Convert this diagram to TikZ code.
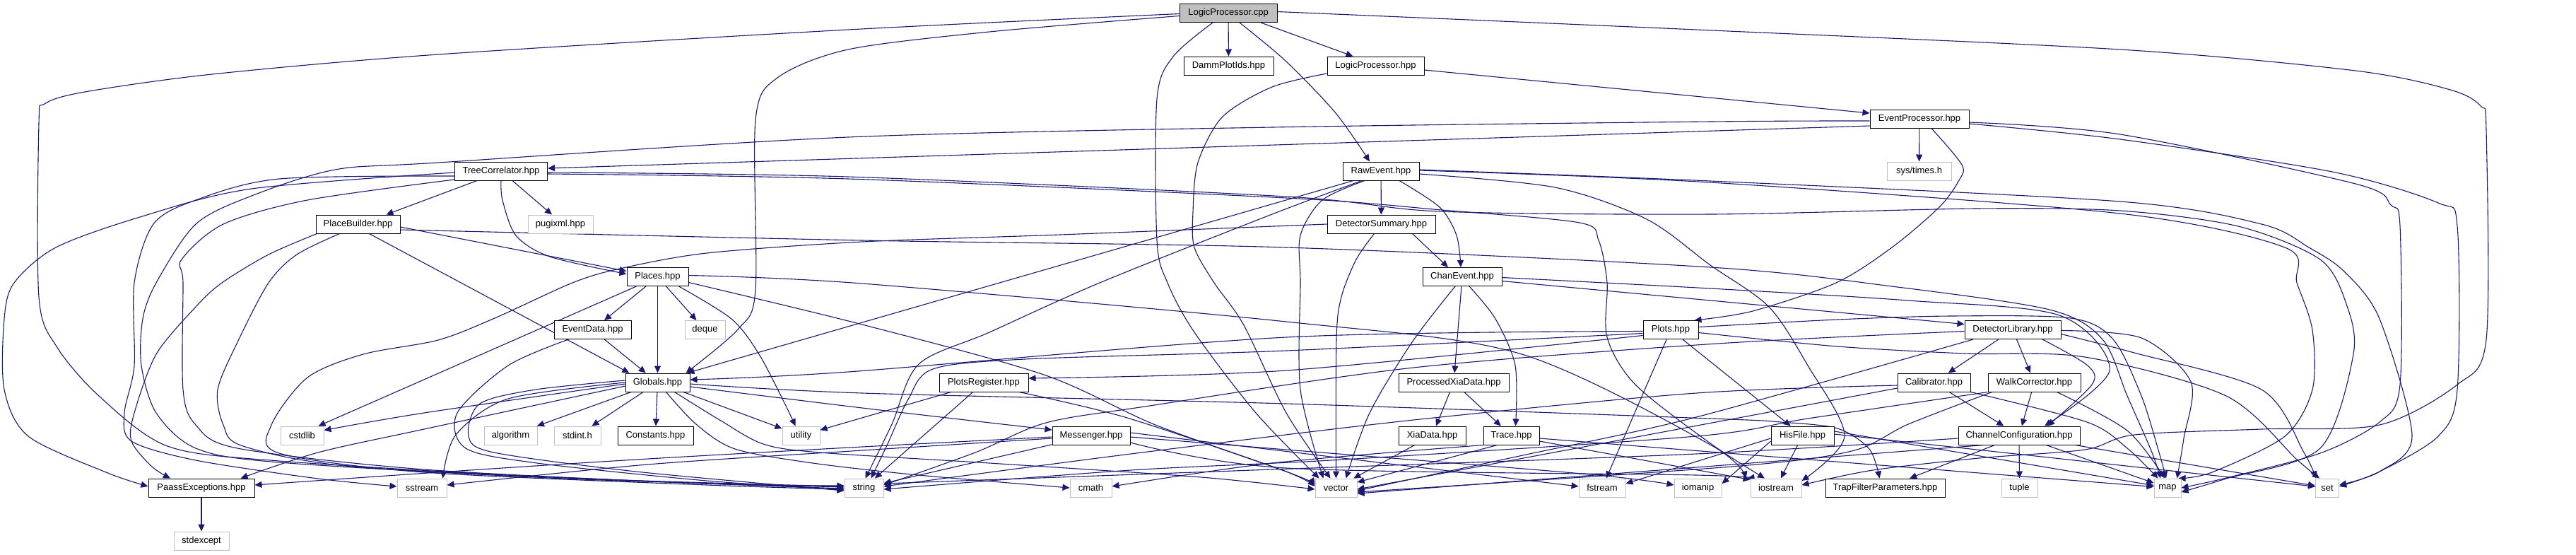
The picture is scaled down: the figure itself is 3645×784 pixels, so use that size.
\documentclass[tikz,border=0pt]{standalone}
\usepackage{fontspec}
\setmainfont{Liberation Sans}
\usetikzlibrary{arrows.meta}
\definecolor{edgeblue}{HTML}{191970}
\definecolor{extgray}{HTML}{BFBFBF}
\definecolor{rootgray}{HTML}{BFBFBF}
\pgfdeclarelayer{bg}
\pgfsetlayers{bg,main}
\newcommand\edgeplot[1]{\draw[edg] plot[smooth,tension=0.5] coordinates {#1};}
\begin{document}
\begin{tikzpicture}[x=0.5pt,y=-0.5pt,
  basebox/.style={rectangle, minimum height=13pt, inner xsep=0pt, inner ysep=0pt, font=\fontsize{6.5}{7}\selectfont, fill=white, line width=0.5pt},
  docbox/.style={basebox, draw=black},
  extbox/.style={basebox, draw=extgray},
  rootbox/.style={basebox, draw=black, fill=rootgray},
  edg/.style={draw=edgeblue, line width=0.55pt, -{Triangle[length=5pt,width=4.5pt]}}]
\useasboundingbox (0,0) rectangle (3645,784);
% ---------- nodes ----------
\node[rootbox,minimum width=69pt] (lpc) at (1738,18.5) {LogicProcessor.cpp};
\node[docbox,minimum width=63.5pt] (dpi) at (1738.5,93) {DammPlotIds.hpp};
\node[docbox,minimum width=68.5pt] (lph) at (1946.5,93) {LogicProcessor.hpp};
\node[docbox,minimum width=70pt] (ep) at (2716,168) {EventProcessor.hpp};
\node[extbox,minimum width=45.5pt] (sth) at (2715.5,242) {sys/times.h};
\node[docbox,minimum width=65.5pt] (tc) at (709,242) {TreeCorrelator.hpp};
\node[docbox,minimum width=54pt] (re) at (1954,242) {RawEvent.hpp};
\node[docbox,minimum width=59.5pt] (pb) at (506.5,317) {PlaceBuilder.hpp};
\node[extbox,minimum width=46pt] (pug) at (793,317) {pugixml.hpp};
\node[docbox,minimum width=76.5pt] (ds) at (1954.5,317) {DetectorSummary.hpp};
\node[docbox,minimum width=43.5pt] (pl) at (930.5,391.5) {Places.hpp};
\node[docbox,minimum width=56pt] (ce) at (2069,391.5) {ChanEvent.hpp};
\node[docbox,minimum width=54.5pt] (ed) at (838.5,466.5) {EventData.hpp};
\node[extbox,minimum width=28.5pt] (dq) at (997.5,466.5) {deque};
\node[docbox,minimum width=39pt] (pt) at (2364,466.5) {Plots.hpp};
\node[docbox,minimum width=68pt] (dl) at (2848,466.5) {DetectorLibrary.hpp};
\node[docbox,minimum width=45.5pt] (gl) at (930.5,541) {Globals.hpp};
\node[docbox,minimum width=63pt] (pr) at (1392,541) {PlotsRegister.hpp};
\node[docbox,minimum width=78pt] (px) at (2057,541) {ProcessedXiaData.hpp};
\node[docbox,minimum width=51.5pt] (cb) at (2736.5,541) {Calibrator.hpp};
\node[docbox,minimum width=65.5pt] (wc) at (2878.5,541) {WalkCorrector.hpp};
\node[extbox,minimum width=30.5pt] (csl) at (427.5,616) {cstdlib};
\node[extbox,minimum width=37.5pt] (alg) at (722.5,616) {algorithm};
\node[extbox,minimum width=33pt] (sti) at (817,616) {stdint.h};
\node[docbox,minimum width=53.5pt] (con) at (927.5,616) {Constants.hpp};
\node[extbox,minimum width=26.5pt] (uti) at (1133.5,616) {utility};
\node[docbox,minimum width=55pt] (ms) at (1544,616) {Messenger.hpp};
\node[docbox,minimum width=47.5pt] (xd) at (2026.5,616) {XiaData.hpp};
\node[docbox,minimum width=39.5pt] (tr) at (2138.5,616) {Trace.hpp};
\node[docbox,minimum width=44.5pt] (hf) at (2550.5,616) {HisFile.hpp};
\node[docbox,minimum width=86pt] (cc) at (2857,616) {ChannelConfiguration.hpp};
\node[docbox,minimum width=75pt] (pe) at (285,690) {PaassExceptions.hpp};
\node[extbox,minimum width=35pt] (sst) at (597,690) {sstream};
\node[extbox,minimum width=27.5pt] (str) at (1222.5,690) {string};
\node[extbox,minimum width=29.5pt] (cm) at (1543.5,690) {cmath};
\node[extbox,minimum width=29.5pt] (vec) at (1890.5,690) {vector};
\node[extbox,minimum width=33pt] (fst) at (2267,690) {fstream};
\node[extbox,minimum width=33.5pt] (iom) at (2402.5,690) {iomanip};
\node[extbox,minimum width=36pt] (ios) at (2513,690) {iostream};
\node[docbox,minimum width=84.5pt] (tfp) at (2667.5,690) {TrapFilterParameters.hpp};
\node[extbox,minimum width=25.5pt] (tup) at (2857.5,690) {tuple};
\node[extbox,minimum width=19pt] (map) at (3067,690) {map};
\node[extbox,minimum width=16.5pt] (set) at (3293,690) {set};
\node[extbox,minimum width=39pt] (sex) at (285,765) {stdexcept};
% ---------- edges ----------
\begin{pgfonlayer}{bg}
\fill[white] (0,0) rectangle (3645,784);
% LogicProcessor.cpp
\draw[edg] (lpc) -- (dpi);
\draw[edg] ([xshift=23pt]lpc.south) -- ([xshift=-16pt]lph.north);
\edgeplot{([xshift=8pt]lpc.south) (1820,87) (1890,160) ([xshift=-8pt]re.north)}
\edgeplot{([yshift=-2pt]lpc.west) (1400,45) (1200,70) (1100,110) (1069,170) (1069,410) (1045,465) ([xshift=-3pt]gl.north east)}
\edgeplot{([yshift=-0.5pt]lpc.west) (1200,42) (620,77) (300,105) (120,130) (63,147) (55,175) (55,420) (80,490) (140,560) (237,631) (395,652) (800,676) ([yshift=1pt]str.west)}
\edgeplot{([xshift=-11pt]lpc.south) (1660,80) (1637,140) (1637,340) (1652,400) (1690,470) (1777,584) ([xshift=-12pt]vec.north)}
\edgeplot{([yshift=1pt]lpc.east) (2400,42) (3000,70) (3333,100) (3467,127) (3510,150) (3518,185) (3518,480) (3477,544) (3367,601) (3200,607) (3020,615) (2950,636) (2800,648) (2650,665) ([yshift=2pt]ios.east)}
% LogicProcessor.hpp
\draw[edg] ([yshift=-3pt]lph.east) -- ([yshift=4pt]ep.west);
\edgeplot{([yshift=-5.5pt]lph.west) (1800,123) (1730,165) (1695,230) (1688,300) (1690,350) (1718,400) (1760,460) (1820,584) ([xshift=-4pt]vec.north)}
% EventProcessor.hpp
\draw[edg] (ep) -- (sth);
\draw[edg] ([yshift=-5pt]ep.west) -- ([yshift=2pt]tc.east);
\edgeplot{([yshift=-1.5pt]ep.west) (2420,172) (1800,180) (1200,194) (620,230) (474,240) (356,277) (277,317) (221,400) (202,451) (200,517) (221,584) (277,634) (395,654) (800,677) ([yshift=0.5pt]str.west)}
\edgeplot{([xshift=8.5pt]ep.south) (2776,233) (2772,255) (2744,293) (2677,350) (2598,400) (2480,440) ([xshift=-3pt]pt.north east)}
\edgeplot{([yshift=-2.5pt]ep.east) (3000,190) (3333,260) (3383,290) (3396,320) (3396,544) (3367,597) (3283,641) (3150,676) ([yshift=0pt]map.east)}
\edgeplot{([yshift=-3.5pt]ep.east) (3000,197) (3300,243) (3450,287) (3477,320) (3477,551) (3450,617) (3367,667) ([yshift=1pt]set.east)}
% TreeCorrelator.hpp
\draw[edg] ([xshift=8pt]tc.south) -- ([xshift=-6pt]pug.north);
\draw[edg] ([xshift=-17pt]tc.south) -- ([xshift=20pt]pb.north);
\edgeplot{(tc.south) (711,283) (730,333) (778,363) ([yshift=2pt]pl.west)}
\edgeplot{([yshift=-1pt]tc.west) (356,267) (198,307) (79,350) (20,400) (6,451) (6,551) (40,617) (150,668) ([yshift=1pt]pe.west)}
\edgeplot{([yshift=-3.5pt]tc.west) (395,253) (277,283) (217,317) (190,400) (190,517) (176,584) (186,624) (277,651) (450,677) ([yshift=1pt]sst.west)}
\edgeplot{([yshift=-6pt]tc.west) (435,283) (316,317) (257,367) (259,400) (259,551) (277,601) (336,634) (600,664) (1000,684) ([yshift=1.5pt]str.west)}
\edgeplot{([yshift=-1pt]tc.east) (1200,250) (1820,278) (2037,299) (2420,303) (2795,295) (3000,298) (3167,320) (3283,367) (3320,430) (3330,501) (3283,634) (3150,677) ([yshift=-3pt]map.east)}
\edgeplot{([yshift=-2pt]tc.east) (1200,253) (1820,280) (2040,297) (2235,315) (2262,340) (2274,400) (2274,477) (2314,544) (2420,627) ([xshift=-8pt]ios.north)}
% RawEvent.hpp
\draw[edg] (re) -- (ds);
\edgeplot{([xshift=13pt]re.south) (2037,293) (2061,333) ([xshift=-1pt]ce.north)}
\draw[edg] ([xshift=-19.5pt]re.south) -- ([xshift=21pt]gl.north);
\edgeplot{([xshift=-13.5pt]re.south) (1800,303) (1556,400) (1400,470) (1300,515) (1262,600) ([xshift=1pt]str.north)}
\edgeplot{([xshift=-11.5pt]re.south) (1871,283) (1840,333) (1840,400) (1840,551) ([xshift=-9pt]vec.north)}
\edgeplot{([yshift=0.5pt]re.east) (2420,258) (3000,302) (3233,350) (3250,400) (3272,467) (3272,551) (3233,617) (3130,668) ([xshift=-2pt]map.north east)}
\edgeplot{([yshift=1pt]re.east) (2420,256) (3000,285) (3200,317) (3267,350) (3317,384) (3367,451) (3413,617) (3367,667) ([yshift=2pt]set.east)}
\edgeplot{([yshift=-2pt]re.east) (2200,265) (2330,310) (2420,375) (2503,434) (2558,517) (2610,617) ([yshift=5pt]ios.east)}
% PlaceBuilder.hpp
\draw[edg] ([yshift=-2pt]pb.east) -- ([yshift=4pt]pl.west);
\draw[edg] ([xshift=8pt]pb.south) -- ([xshift=-20pt]gl.north);
\edgeplot{([xshift=-29pt]pb.south) (380,360) (314,400) (277,434) (221,501) (190,584) (186,624) (215,660) ([xshift=-22pt]pe.north)}
\edgeplot{([xshift=-13pt]pb.south) (420,360) (380,400) (336,484) (308,551) (316,601) (344,631) (500,660) (900,680) ([yshift=-0.5pt]str.west)}
\edgeplot{([yshift=-4pt]pb.east) (1220,340) (1820,350) (2420,378) (2677,405) (2900,438) (2975,480) (3010,560) (3045,640) ([xshift=-5pt]map.north)}
% DetectorSummary.hpp
\draw[edg] ([xshift=22pt]ds.south) -- ([xshift=-10pt]ce.north);
\edgeplot{([xshift=-5pt]ds.south) (1919,367) (1898,420) (1891,480) (vec.north)}
\edgeplot{(ds.west) (1500,332) (1220,342) (1000,358) (877,380) (810,400) (700,450) (620,481) (514,501) (435,534) (384,601) (395,641) (600,668) (1000,686) ([yshift=-1pt]str.west)}
% Places.hpp
\draw[edg] (pl) -- (ed);
\draw[edg] (pl) -- (gl);
\draw[edg] (pl) -- (dq);
\draw[edg] ([xshift=-15pt]pl.south) -- ([xshift=-4pt]csl.north east);
\edgeplot{([xshift=15pt]pl.south) (1035,451) (1074,501) (1110,570) ([xshift=-4pt]uti.north)}
\edgeplot{([yshift=1pt]pl.east) (1220,401) (1820,455) (2150,500) (2420,629) ([xshift=-3pt]ios.north west)}
\edgeplot{([yshift=-4pt]pl.east) (1220,459) (1477,530) (1635,601) (1820,667) ([yshift=1pt]vec.west)}
% EventData.hpp
\draw[edg] (ed) -- (gl);
\edgeplot{([xshift=-17pt]ed.south) (719,517) (647,584) (659,634) (760,655) (1000,680) ([yshift=-1.5pt]str.west)}
% Globals.hpp
\draw[edg] (gl) -- (alg);
\draw[edg] (gl) -- (sti);
\draw[edg] (gl) -- (con);
\draw[edg] (gl) -- (uti);
\edgeplot{([xshift=6pt]gl.south) (985,600) (1040,635) (1150,655) (1300,672) (cm.west)}
\edgeplot{([xshift=12pt]gl.south) (1020,595) (1080,628) (1160,640) (1400,655) (1700,675) ([yshift=-1pt]vec.west)}
\edgeplot{([yshift=-1pt]gl.east) (1220,556) (1820,571) (2420,592) (2520,597) (2600,606) (2645,635) ([xshift=-4pt]tfp.north)}
\edgeplot{([yshift=-3pt]gl.east) (1220,577) ([yshift=4pt]ms.west)}
\edgeplot{([yshift=1.5pt]gl.west) (758,551) (679,571) (663,617) (699,640) (900,667) ([yshift=-2pt]str.west)}
\edgeplot{(gl.west) (719,564) (645,615) ([xshift=-3pt]sst.north east)}
\edgeplot{([yshift=-1pt]gl.west) (600,584) ([yshift=-3pt]csl.north east)}
\edgeplot{([yshift=-2.5pt]gl.west) (600,607) (450,640) ([xshift=-10pt]pe.north east)}
% PlotsRegister.hpp
\draw[edg] (pr) -- (uti);
\draw[edg] (pr) -- (str);
\edgeplot{([xshift=25pt]pr.south) (1595,591) (1820,667) ([yshift=2pt]vec.west)}
% Messenger.hpp
\draw[edg] (ms) -- (str);
\edgeplot{([yshift=-2pt]ms.west) (1220,637) (916,657) ([yshift=2pt]sst.east)}
\edgeplot{([yshift=-1pt]ms.west) (1220,632) (900,650) (620,668) ([yshift=2pt]pe.east)}
\draw[edg] ([yshift=2pt]ms.east) -- ([yshift=1pt]fst.west);
\edgeplot{([yshift=-1pt]ms.east) (1820,636) (2250,671) ([yshift=2pt]iom.west)}
\edgeplot{([yshift=-5pt]ms.east) (1820,662) (2400,672) ([xshift=-2pt]ios.north west)}
% Plots.hpp
\draw[edg] (pt) -- (hf);
\draw[edg] (pt) -- (fst);
\edgeplot{([yshift=-1pt]pt.west) (1820,477) (1200,526) ([yshift=2pt]gl.east)}
\edgeplot{([yshift=-4pt]pt.west) (1820,524) ([yshift=3pt]pr.east)}
\edgeplot{([yshift=-2.5pt]pt.west) (1820,496) (1450,508) (1320,522) (1285,565) (1255,630) ([xshift=5pt]str.north)}
\edgeplot{([yshift=2pt]pt.east) (2600,452) (2760,447) (2930,450) (2990,480) (3030,560) (3055,640) ([xshift=-1pt]map.north)}
\edgeplot{([yshift=-2pt]pt.east) (2600,490) (2780,500) (2950,505) (3150,560) (3250,650) ([xshift=3pt]set.north west)}
% DetectorLibrary.hpp
\draw[edg] (dl) -- (cb);
\draw[edg] (dl) -- (wc);
\edgeplot{([xshift=21pt]dl.south) (2954,517) (2960,544) ([xshift=20pt]cc.north)}
\edgeplot{([yshift=-1pt]dl.west) (2430,486) (2000,520) (1620,575) (1480,598) (1380,640) ([yshift=2pt]str.east)}
\edgeplot{([xshift=-28pt]dl.south) (2400,590) (2150,645) ([yshift=-2pt]vec.east)}
\edgeplot{([yshift=-0.5pt]dl.east) (3030,478) (3100,540) (3090,620) ([xshift=-3pt]map.north east)}
\edgeplot{([yshift=-3pt]dl.east) (3020,499) (3200,551) (3260,640) ([xshift=0.5pt]set.north west)}
% Calibrator.hpp
\draw[edg] (cb) -- (cc);
\edgeplot{([yshift=-2pt]cb.west) (2400,556) (2000,594) (1600,642) ([yshift=1pt]str.east)}
\draw[edg] ([yshift=-4pt]cb.west) -- ([yshift=-1pt]vec.east);
\edgeplot{(cb.south east) (2953,597) (3010,634) ([xshift=3pt]map.north west)}
% WalkCorrector.hpp
\draw[edg] (wc) -- (cc);
\edgeplot{([xshift=16pt]wc.south) (3010,609) ([xshift=-2pt]map.north)}
\edgeplot{([xshift=3pt]wc.south west) (2700,600) (2620,638) (2450,660) ([yshift=-3pt]vec.east)}
\edgeplot{(wc.south west) (2558,592) (2400,617) (1900,650) (1600,665) ([yshift=-1pt]str.east)}
% ChannelConfiguration.hpp
\draw[edg] (cc) -- (tup);
\draw[edg] (cc) -- (tfp);
\draw[edg] (cc) -- (map);
\draw[edg] (cc) -- (set);
\edgeplot{([yshift=-2pt]cc.west) (2400,642) (1800,664) ([yshift=3pt]str.east)}
\draw[edg] ([xshift=-25pt]cc.south) -- ([yshift=-4pt]vec.east);
% HisFile.hpp
\draw[edg] (hf) -- (ios);
\draw[edg] ([yshift=-4pt]hf.west) -- ([yshift=3pt]iom.east);
\draw[edg] ([yshift=-2pt]hf.west) -- ([yshift=3pt]fst.east);
\draw[edg] ([yshift=3pt]hf.east) -- (map);
\draw[edg] ([yshift=1pt]hf.east) -- (set);
% Trace.hpp
\draw[edg] ([xshift=-10pt]tr.south) -- (vec);
\edgeplot{(tr.south west) (1800,655) ([yshift=1pt]cm.east)}
\draw[edg] ([yshift=-2pt]tr.east) -- (map);
\draw[edg] ([yshift=-4pt]tr.east) -- ([yshift=-1pt]ios.north west);
% ProcessedXiaData / XiaData
\draw[edg] (px) -- (xd);
\draw[edg] (px) -- (tr);
\draw[edg] (xd) -- (vec);
% ChanEvent.hpp
\draw[edg] (ce) -- (px);
\edgeplot{([xshift=5pt]ce.south) (2116,451) (2144,517) ([xshift=3pt]tr.north)}
\edgeplot{([xshift=-5pt]ce.south) (1998,484) (1938,584) ([xshift=7pt]vec.north)}
\draw[edg] ([yshift=-3pt]ce.east) -- ([yshift=4pt]dl.west);
\edgeplot{([yshift=-0.5pt]ce.east) (2420,408) (2700,425) (2914,446) (2985,524) ([xshift=18pt]cc.north)}
% PaassExceptions.hpp
\draw[edg] (pe) -- (sex);
\end{pgfonlayer}
\end{tikzpicture}
\end{document}
